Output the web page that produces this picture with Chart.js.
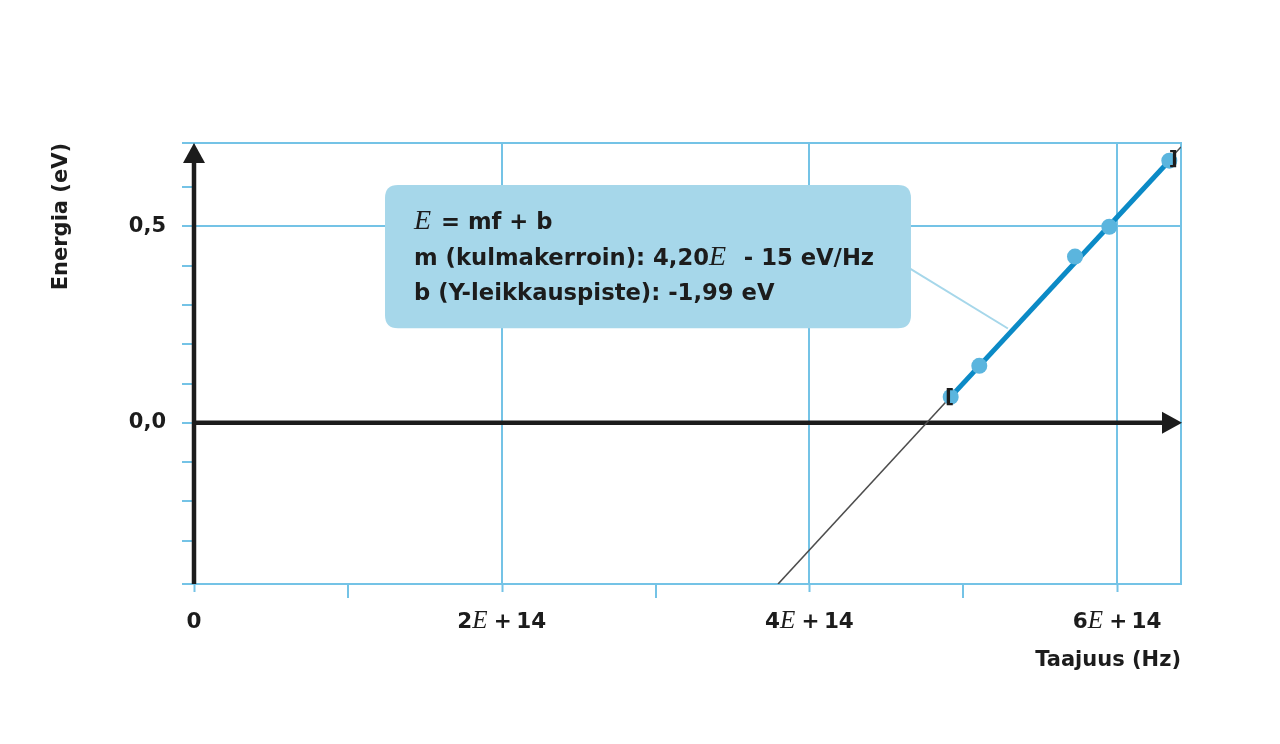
<!DOCTYPE html>
<html>
<head>
<meta charset="utf-8">
<script src="https://cdn.jsdelivr.net/npm/chart.js@4.4.1/dist/chart.umd.min.js"></script>
<style>
html,body{margin:0;padding:0;background:#ffffff;}
#wrap{width:1280px;height:744px;}
</style>
</head>
<body>
<div id="wrap"><canvas id="c" width="1280" height="744"></canvas></div>
<script>
// ---- data ----
const freqHz   = [4.918e14, 5.104e14, 5.726e14, 5.949e14, 6.339e14];
const energyEV = [0.066, 0.145, 0.423, 0.499, 0.667];
const fitLineX = [3.796e14, 6.415e14];
const fitLineY = [-0.41, 0.702];
const fitSegmentX = [4.918e14, 6.339e14];
const fitSegmentY = [0.066, 0.667];
const xTickValues = [0, 1e14, 2e14, 3e14, 4e14, 5e14, 6e14];
const xTickLabels = ['0', '', '2E+14', '', '4E+14', '', '6E+14'];
const yTickValues = [0, 0.5];
const yTickLabels = ['0,0', '0,5'];
const xRange = [0, 6.415e14];
const yRange = [-0.41, 0.712];
const xTitle = 'Taajuus (Hz)';
const yTitle = 'Energia (eV)';
const calloutLine1 = [['E', 'math'], [' = mf + b', 'text']];
const calloutLine2 = [['m (kulmakerroin): 4,20', 'text'], ['E', 'math'], ['  - 15 eV/Hz', 'text']];
const calloutLine3 = [['b (Y-leikkauspiste): -1,99 eV', 'text']];

// ---- layout / style ----
const SANS = '"DejaVu Sans", "Liberation Sans", sans-serif';
const SERIF = '"Liberation Serif", "DejaVu Serif", serif';
const GRID = '#74c3e6';
const INK = '#1c1c1c';
const BOX = '#a6d7ea';
const callout = {x0: 1.2415e14, x1: 4.66e14, y0: 0.605, y1: 0.241, pointerY: 0.399, anchorX: 5.29e14, anchorY: 0.24};

function near(a, b) { return Math.abs(a - b) < 1e-6 * Math.max(1, Math.abs(b)); }
function isMajorX(v) { const r = v / 2e14; return near(r, Math.round(r)); }

function drawParts(ctx, parts, x, y, sizeText, sizeMath, align) {
  const items = parts.map(([t, kind]) => {
    const font = kind === 'math' ? 'italic ' + sizeMath + 'px ' + SERIF : 'bold ' + sizeText + 'px ' + SANS;
    ctx.font = font;
    return {t, font, w: ctx.measureText(t).width + (kind === 'math' ? 2 : 0)};
  });
  const total = items.reduce((s, i) => s + i.w, 0);
  let cx = align === 'center' ? x - total / 2 : x;
  ctx.textAlign = 'left';
  ctx.textBaseline = 'alphabetic';
  items.forEach(i => { ctx.font = i.font; ctx.fillText(i.t, cx, y); cx += i.w; });
}

function roundRect(ctx, x, y, w, h, r) {
  ctx.beginPath();
  ctx.moveTo(x + r, y);
  ctx.lineTo(x + w - r, y);
  ctx.quadraticCurveTo(x + w, y, x + w, y + r);
  ctx.lineTo(x + w, y + h - r);
  ctx.quadraticCurveTo(x + w, y + h, x + w - r, y + h);
  ctx.lineTo(x + r, y + h);
  ctx.quadraticCurveTo(x, y + h, x, y + h - r);
  ctx.lineTo(x, y + r);
  ctx.quadraticCurveTo(x, y, x + r, y);
  ctx.closePath();
}

const decorPlugin = {
  id: 'decor',
  beforeDatasetsDraw(chart) {
    const ctx = chart.ctx, xs = chart.scales.x, ys = chart.scales.y, a = chart.chartArea;
    ctx.save();
    // right frame line
    const rx = xs.getPixelForValue(xRange[1]);
    ctx.strokeStyle = GRID; ctx.lineWidth = 2;
    ctx.beginPath(); ctx.moveTo(rx, a.top - 1); ctx.lineTo(rx, a.bottom + 1); ctx.stroke();
    // short major tick marks below the x axis
    xs.ticks.forEach(t => {
      if (!isMajorX(t.value)) return;
      const px = Math.round(xs.getPixelForValue(t.value)) + 0.5;
      ctx.beginPath(); ctx.moveTo(px, a.bottom); ctx.lineTo(px, a.bottom + 8); ctx.stroke();
    });
    // black axes with arrowheads
    const x0 = xs.getPixelForValue(0), y0 = ys.getPixelForValue(0);
    ctx.strokeStyle = INK; ctx.fillStyle = INK; ctx.lineWidth = 4.5;
    ctx.beginPath(); ctx.moveTo(x0, a.bottom); ctx.lineTo(x0, a.top + 18); ctx.stroke();
    ctx.beginPath(); ctx.moveTo(x0 - 2, y0); ctx.lineTo(rx - 18, y0); ctx.stroke();
    ctx.beginPath(); ctx.moveTo(x0, a.top); ctx.lineTo(x0 - 11, a.top + 20); ctx.lineTo(x0 + 11, a.top + 20); ctx.closePath(); ctx.fill();
    ctx.beginPath(); ctx.moveTo(rx + 1, y0); ctx.lineTo(rx - 19, y0 - 11); ctx.lineTo(rx - 19, y0 + 11); ctx.closePath(); ctx.fill();
    // callout box + pointer
    const bx0 = xs.getPixelForValue(callout.x0), bx1 = xs.getPixelForValue(callout.x1);
    const by0 = ys.getPixelForValue(callout.y0), by1 = ys.getPixelForValue(callout.y1);
    ctx.strokeStyle = BOX; ctx.lineWidth = 2;
    ctx.beginPath();
    ctx.moveTo(bx1 - 5, ys.getPixelForValue(callout.pointerY));
    ctx.lineTo(xs.getPixelForValue(callout.anchorX), ys.getPixelForValue(callout.anchorY));
    ctx.stroke();
    ctx.fillStyle = BOX;
    roundRect(ctx, bx0, by0, bx1 - bx0, by1 - by0, 13);
    ctx.fill();
    ctx.fillStyle = INK;
    drawParts(ctx, calloutLine1, bx0 + 29, by0 + 44, 22.7, 28, 'left');
    drawParts(ctx, calloutLine2, bx0 + 29, by0 + 80, 22.7, 28, 'left');
    drawParts(ctx, calloutLine3, bx0 + 29, by0 + 115, 22.7, 28, 'left');
    ctx.restore();
  },
  afterDatasetsDraw(chart) {
    const ctx = chart.ctx, xs = chart.scales.x, ys = chart.scales.y;
    ctx.save();
    ctx.fillStyle = INK;
    ctx.font = 'bold 20px ' + SANS;
    ctx.textAlign = 'center'; ctx.textBaseline = 'middle';
    const n = freqHz.length - 1;
    ctx.fillText('[', xs.getPixelForValue(freqHz[0]) - 1, ys.getPixelForValue(energyEV[0]) + 1);
    ctx.fillText(']', xs.getPixelForValue(freqHz[n]) + 4, ys.getPixelForValue(energyEV[n]) - 1);
    ctx.restore();
  },
  afterDraw(chart) {
    const ctx = chart.ctx, xs = chart.scales.x, a = chart.chartArea;
    ctx.save();
    ctx.fillStyle = INK;
    xs.ticks.forEach(t => {
      if (!t.label) return;
      const px = xs.getPixelForValue(t.value);
      const y = a.bottom + 44;
      const m = String(t.label).match(/^(.*)E([+-])(\d+)$/);
      if (m) {
        drawParts(ctx, [[m[1], 'text'], ['E', 'math'], ['\u2009' + m[2] + '\u2009', 'text'], [m[3], 'text']], px, y, 21.5, 25, 'center');
      } else {
        drawParts(ctx, [[String(t.label), 'text']], px, y, 21.5, 25, 'center');
      }
    });
    ctx.restore();
  }
};

new Chart(document.getElementById('c'), {
  type: 'scatter',
  data: {
    datasets: [
      {
        label: 'Mittaukset',
        data: freqHz.map((f, i) => ({x: f, y: energyEV[i]})),
        pointRadius: 8, pointHoverRadius: 8,
        backgroundColor: '#5bb5de', borderWidth: 0,
        order: 0
      },
      {
        label: 'Sovitus',
        type: 'line',
        data: fitSegmentX.map((f, i) => ({x: f, y: fitSegmentY[i]})),
        borderColor: '#0b8ac6', borderWidth: 5, pointRadius: 0,
        showLine: true, fill: false, order: 1
      },
      {
        label: 'Sovitussuora',
        type: 'line',
        data: fitLineX.map((f, i) => ({x: f, y: fitLineY[i]})),
        borderColor: '#4d4d4d', borderWidth: 1.6, pointRadius: 0,
        showLine: true, fill: false, order: 2
      }
    ]
  },
  options: {
    responsive: false,
    animation: false,
    events: [],
    layout: {padding: {left: 0, right: 99, top: 143, bottom: 0}},
    plugins: {legend: {display: false}, tooltip: {enabled: false}},
    scales: {
      x: {
        type: 'linear', position: 'bottom',
        min: xRange[0], max: xRange[1],
        afterBuildTicks: s => { s.ticks = xTickValues.map(v => ({value: v})); },
        afterFit: s => { s.height = 160; },
        border: {display: false},
        grid: {
          lineWidth: 2, tickLength: 14, tickWidth: 2,
          tickColor: c => (c.tick && isMajorX(c.tick.value)) ? 'rgba(0,0,0,0)' : GRID,
          color: c => (c.tick && isMajorX(c.tick.value)) ? GRID : 'rgba(0,0,0,0)'
        },
        ticks: {
          autoSkip: false, maxRotation: 0, minRotation: 0,
          color: 'rgba(0,0,0,0)', padding: 10,
          font: {family: SANS, size: 21, weight: 'bold'},
          callback: v => { const i = xTickValues.findIndex(t => near(v, t)); return i >= 0 ? xTickLabels[i] : ''; }
        },
        title: {display: true, text: xTitle, align: 'end', color: INK,
          font: {family: SANS, size: 21, weight: 'bold'}, padding: {top: 0, bottom: 71}}
      },
      y: {
        type: 'linear', position: 'left',
        min: yRange[0], max: yRange[1],
        afterFit: s => { s.width = 194; },
        border: {display: false},
        grid: {
          lineWidth: 2, tickLength: 12, tickWidth: 2,
          color: c => {
            const v = c.tick ? c.tick.value : 1;
            return (near(v, 0.5) || near(v, 0) || v <= yRange[0] + 1e-9 || v >= yRange[1] - 1e-9) ? GRID : 'rgba(0,0,0,0)';
          },
          tickColor: c => {
            const v = c.tick ? c.tick.value : 1;
            return (near(v, -0.4) || near(v, 0.7)) ? 'rgba(0,0,0,0)' : GRID;
          }
        },
        ticks: {
          stepSize: 0.1, autoSkip: false, color: INK, padding: 16,
          font: {family: SANS, size: 21, weight: 'bold'},
          callback: v => { const i = yTickValues.findIndex(t => near(v, t)); return i >= 0 ? yTickLabels[i] : ''; }
        },
        title: {display: true, text: yTitle, align: 'end', color: INK,
          font: {family: SANS, size: 21, weight: 'bold'}, padding: {top: 49, bottom: 0}}
      }
    }
  },
  plugins: [decorPlugin]
});
</script>
</body>
</html>
